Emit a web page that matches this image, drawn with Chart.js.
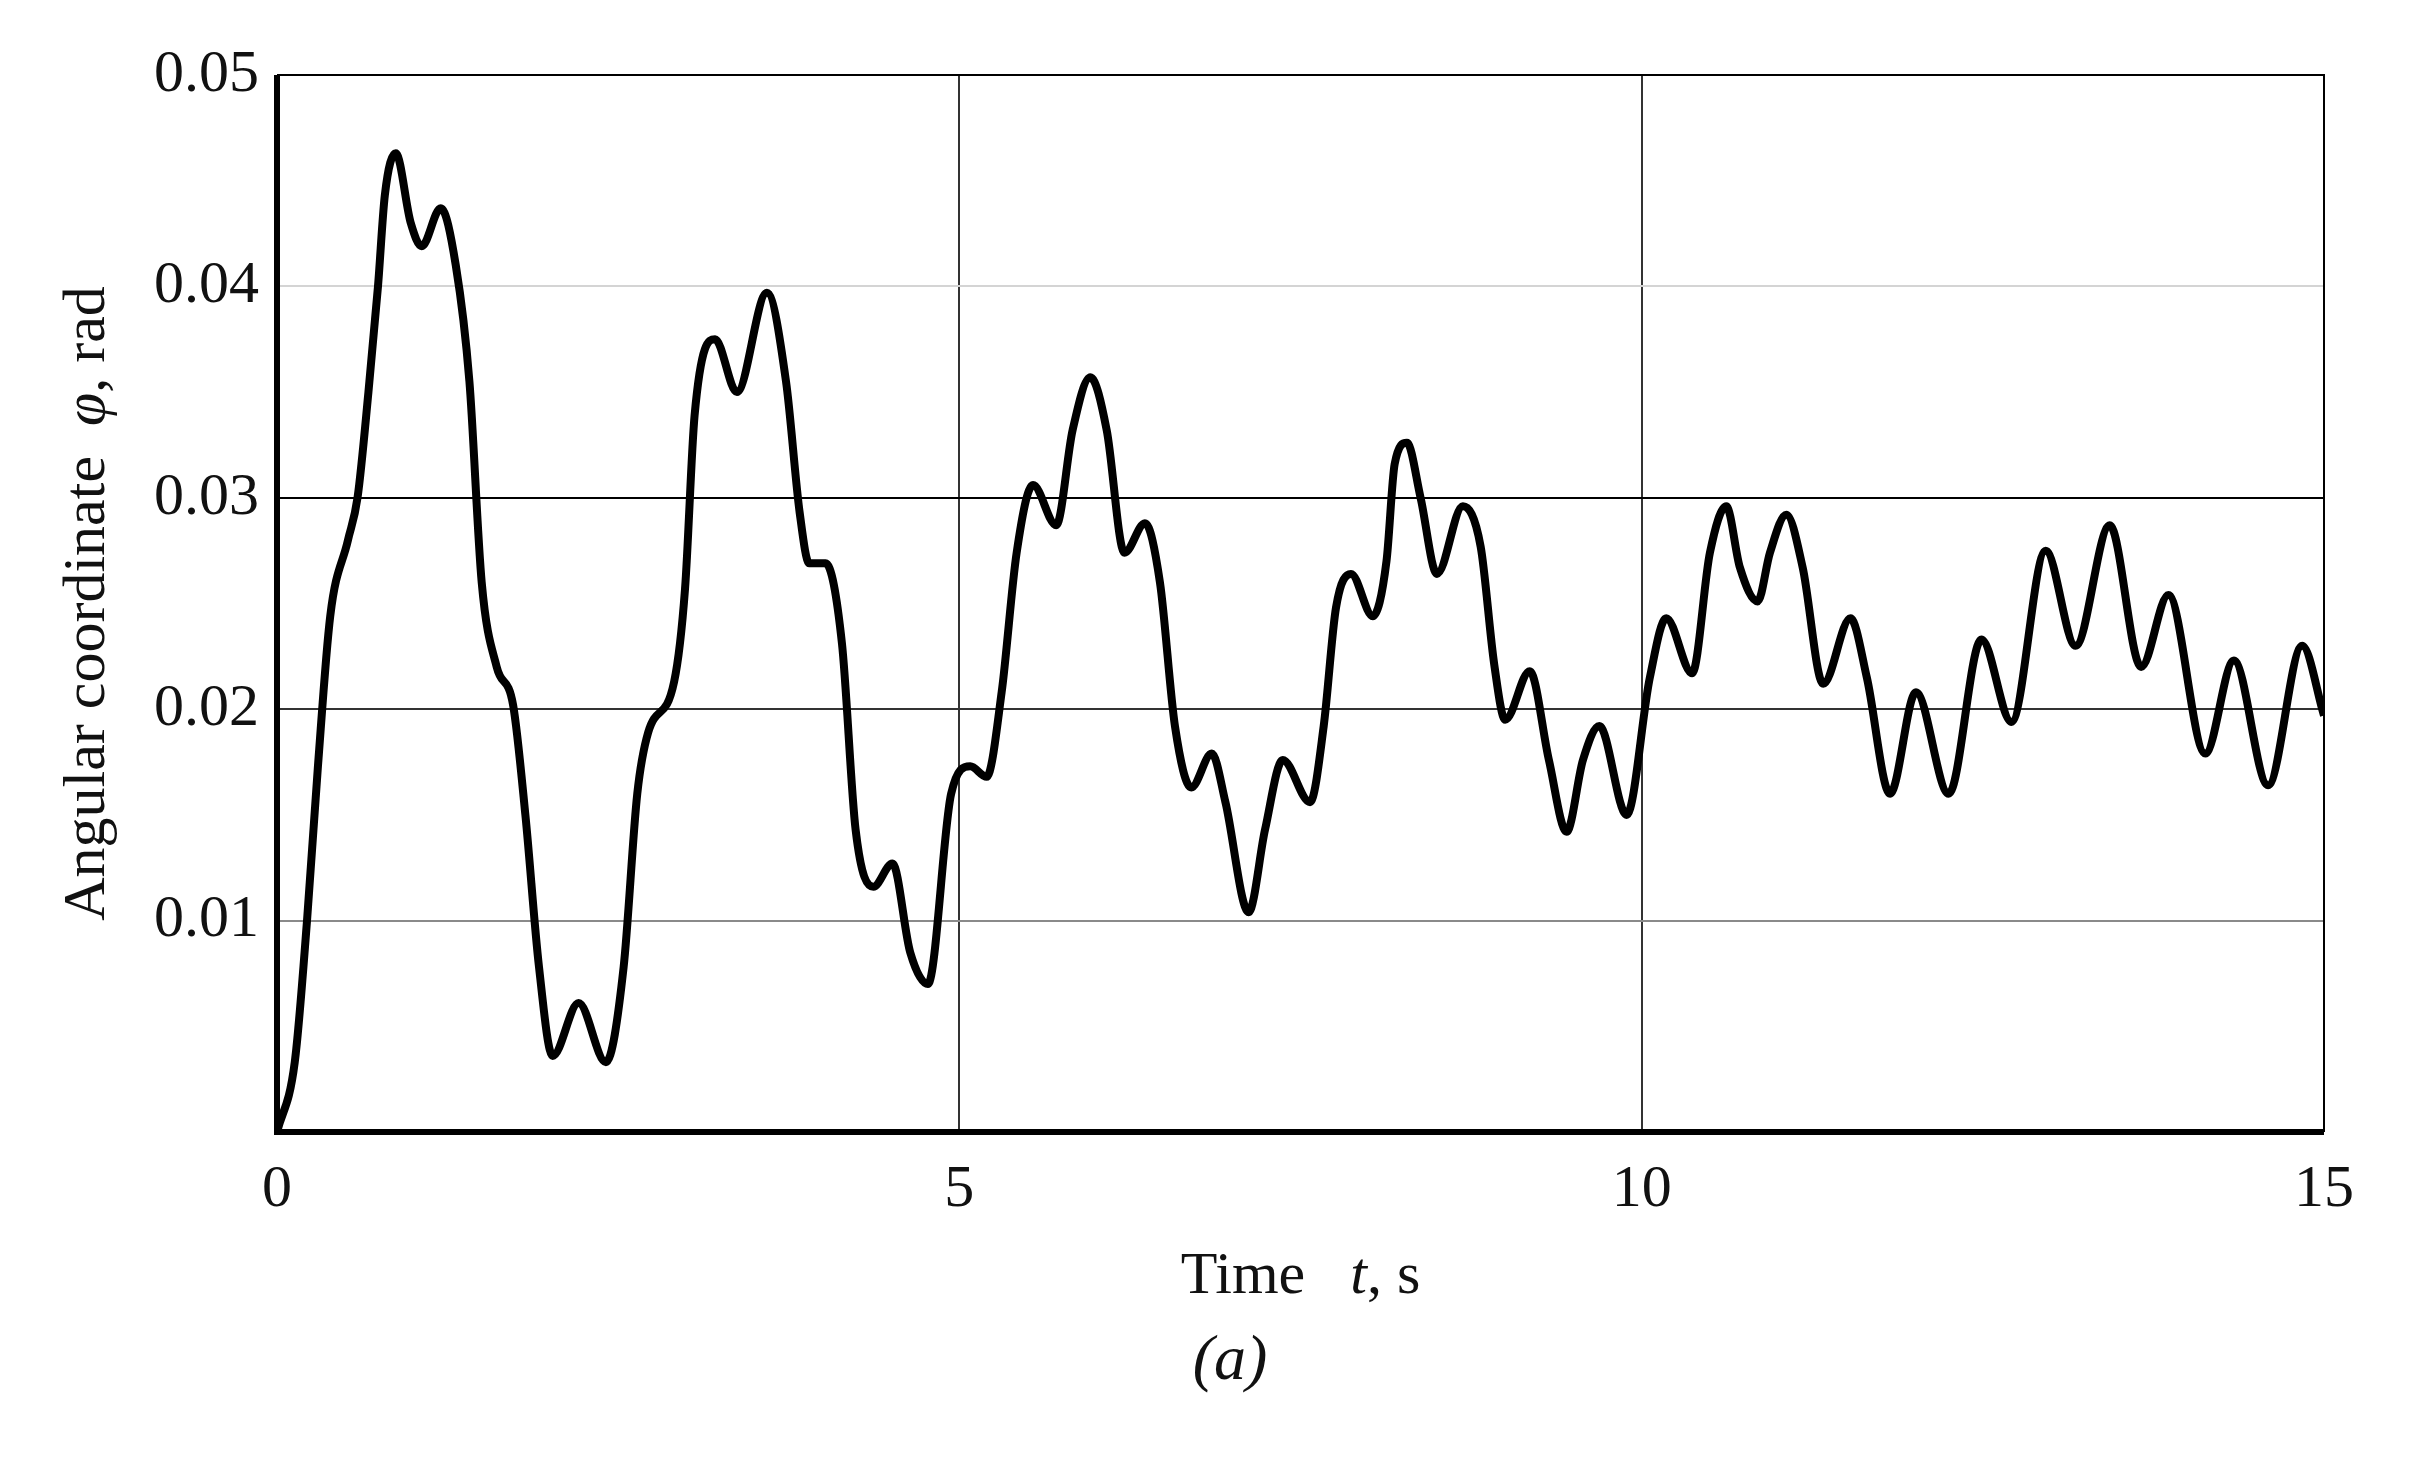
<!DOCTYPE html>
<html>
<head>
<meta charset="utf-8">
<script src="https://cdn.jsdelivr.net/npm/chart.js@4/dist/chart.umd.min.js"></script>
<style>
  html, body { margin: 0; padding: 0; background: #fff; }
  #wrap { width: 2417px; height: 1468px; }
</style>
</head>
<body>
<div id="wrap"><canvas id="chart"></canvas></div>
<script>
// time, s
const timeValues = [0, 0.13, 0.22, 0.30, 0.39, 0.52, 0.59, 0.67, 0.74, 0.79, 0.87, 0.98, 1.06, 1.20, 1.31, 1.41, 1.50, 1.61, 1.73, 1.82, 1.92, 2.02, 2.21, 2.41, 2.54, 2.64, 2.72, 2.91, 2.99, 3.06, 3.21, 3.37, 3.59, 3.73, 3.83, 3.90, 4.02, 4.14, 4.24, 4.37, 4.51, 4.64, 4.77, 4.94, 5.08, 5.20, 5.31, 5.42, 5.54, 5.71, 5.83, 5.96, 6.08, 6.21, 6.36, 6.47, 6.58, 6.70, 6.85, 6.95, 7.12, 7.24, 7.37, 7.57, 7.67, 7.76, 7.87, 8.03, 8.13, 8.19, 8.28, 8.38, 8.50, 8.69, 8.82, 8.92, 9.00, 9.18, 9.32, 9.45, 9.57, 9.69, 9.89, 10.06, 10.18, 10.37, 10.50, 10.62, 10.72, 10.85, 10.94, 11.06, 11.18, 11.33, 11.53, 11.65, 11.82, 12.01, 12.25, 12.49, 12.71, 12.96, 13.18, 13.43, 13.66, 13.86, 14.13, 14.34, 14.59, 14.84, 15.0];
// angular coordinate, rad
const phiValues = [0, 0.0033, 0.0100, 0.0173, 0.0244, 0.0280, 0.0300, 0.0350, 0.0400, 0.0443, 0.0463, 0.0430, 0.0419, 0.0437, 0.0410, 0.0355, 0.0260, 0.0220, 0.0202, 0.0150, 0.0078, 0.0036, 0.0061, 0.0033, 0.0078, 0.0160, 0.0189, 0.0213, 0.0257, 0.0339, 0.0375, 0.0350, 0.0397, 0.0355, 0.0293, 0.0269, 0.0269, 0.0231, 0.0143, 0.0116, 0.0127, 0.0085, 0.0070, 0.0160, 0.0173, 0.0168, 0.0208, 0.0274, 0.0306, 0.0287, 0.0332, 0.0357, 0.0332, 0.0274, 0.0288, 0.0260, 0.0192, 0.0163, 0.0179, 0.0156, 0.0104, 0.0143, 0.0176, 0.0156, 0.0192, 0.0248, 0.0264, 0.0244, 0.0270, 0.0316, 0.0326, 0.0300, 0.0264, 0.0296, 0.0277, 0.0221, 0.0195, 0.0218, 0.0176, 0.0142, 0.0176, 0.0192, 0.0150, 0.0215, 0.0243, 0.0217, 0.0274, 0.0296, 0.0267, 0.0251, 0.0274, 0.0292, 0.0267, 0.0212, 0.0243, 0.0215, 0.0160, 0.0208, 0.0160, 0.0233, 0.0194, 0.0275, 0.0230, 0.0287, 0.0220, 0.0254, 0.0179, 0.0223, 0.0164, 0.0230, 0.0197];
const yTickColors = { 0.01: '#8a8a8a', 0.02: '#333333', 0.03: '#000000', 0.04: '#d4d4d4', 0.05: '#000000' };

const points = timeValues.map((t, i) => ({ x: t, y: phiValues[i] }));
const serif = '"Liberation Serif", "DejaVu Serif", serif';

// axis titles and caption with italic symbols
const textPlugin = {
    id: 'texts',
    afterDraw(chart) {
        const ctx = chart.ctx;
        const area = chart.chartArea;
        ctx.save();
        ctx.fillStyle = '#111';
        ctx.textBaseline = 'middle';

        function drawParts(parts, x, y) {
            let total = 0;
            parts.forEach(p => { ctx.font = p[1]; total += ctx.measureText(p[0]).width; });
            let cx = x - total / 2;
            ctx.textAlign = 'left';
            parts.forEach(p => { ctx.font = p[1]; ctx.fillText(p[0], cx, y); cx += ctx.measureText(p[0]).width; });
        }
        const normal = '60px ' + serif;
        const italic = 'italic 60px ' + serif;

        drawParts([['Time   ', normal], ['t', italic], [', s', normal]], (area.left + area.right) / 2, 1277);

        ctx.save();
        ctx.translate(88, (area.top + area.bottom) / 2);
        ctx.rotate(-Math.PI / 2);
        drawParts([['Angular coordinate  ', normal], ['φ', italic], [', rad', normal]], 0, 0);
        ctx.restore();

        drawParts([['(a)', 'italic 64px ' + serif]], 1230, 1362);

        // frame: thick left and bottom
        ctx.strokeStyle = '#000';
        ctx.lineWidth = 6;
        ctx.beginPath();
        ctx.moveTo(area.left, area.top);
        ctx.lineTo(area.left, area.bottom);
        ctx.lineTo(area.right, area.bottom);
        ctx.stroke();
        ctx.lineWidth = 2;
        ctx.beginPath();
        ctx.moveTo(area.left, area.top);
        ctx.lineTo(area.right, area.top);
        ctx.lineTo(area.right, area.bottom);
        ctx.stroke();
        ctx.restore();
    }
};

new Chart(document.getElementById('chart').getContext('2d'), {
    type: 'line',
    data: {
        datasets: [{
            data: points,
            borderColor: '#000',
            borderWidth: 8,
            pointRadius: 0,
            fill: false,
            cubicInterpolationMode: 'monotone'
        }]
    },
    options: {
        responsive: true,
        maintainAspectRatio: false,
        animation: false,
        layout: { padding: { top: 75, right: 93, left: 0, bottom: 0 } },
        plugins: { legend: { display: false }, tooltip: { enabled: false } },
        scales: {
            x: {
                type: 'linear',
                min: 0,
                max: 15,
                afterFit(scale) { scale.height = 336; },
                border: { display: false },
                grid: {
                    color: ctx => (ctx.tick && (ctx.tick.value === 5 || ctx.tick.value === 10)) ? '#333' : 'rgba(0,0,0,0)',
                    lineWidth: 2,
                    drawTicks: false
                },
                ticks: {
                    stepSize: 5,
                    padding: 22,
                    color: '#111',
                    font: { family: serif, size: 60 },
                    maxRotation: 0
                }
            },
            y: {
                min: 0,
                max: 0.05,
                afterFit(scale) { scale.width = 277; },
                border: { display: false },
                grid: {
                    color: ctx => yTickColors[Math.round(ctx.tick.value * 100) / 100] || 'rgba(0,0,0,0)',
                    lineWidth: 2,
                    drawTicks: false
                },
                ticks: {
                    stepSize: 0.01,
                    padding: 18,
                    color: '#111',
                    font: { family: serif, size: 60 },
                    callback: v => v === 0 ? '' : v.toFixed(2)
                }
            }
        }
    },
    plugins: [textPlugin]
});
</script>
</body>
</html>
